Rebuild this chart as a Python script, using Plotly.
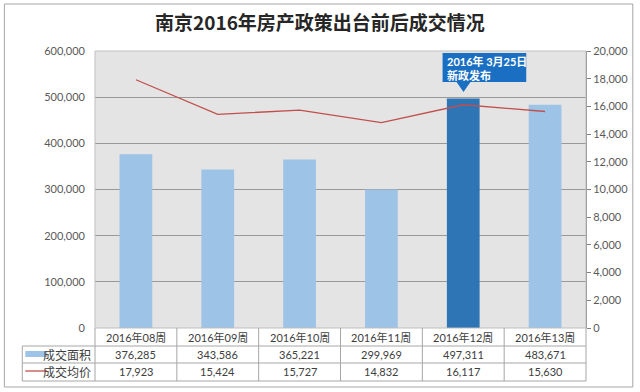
import plotly.graph_objects as go

categories = ["2016年08周", "2016年09周", "2016年10周", "2016年11周", "2016年12周", "2016年13周"]
area = [376285, 343586, 365221, 299969, 497311, 483671]
price = [17923, 15424, 15727, 14832, 16117, 15630]
highlight_index = 4
series_names = ["成交面积", "成交均价"]
title_text = "南京2016年房产政策出台前后成交情况"
callout_lines = ["2016年 3月25日", "新政发布"]

W, H = 640, 392
L, R, T, B = 95, 588, 51, 328
PW, PH = R - L, B - T

def px(x):
    return (x - L) / PW

def py(y):
    return (B - y) / PH

FONT = "Lato, 'Noto Sans CJK SC', sans-serif"
CJK = "'Noto Sans CJK SC', sans-serif"
LIGHT = "#9dc3e6"
DARK = "#2e75b6"
LINEC = "#c0504d"
TXT = "#404040"

bar_colors = [DARK if i == highlight_index else LIGHT for i in range(len(categories))]

fig = go.Figure()
fig.add_trace(go.Bar(x=categories, y=area, marker=dict(color=bar_colors, line=dict(width=0)),
                     name=series_names[0], yaxis="y"))
fig.add_trace(go.Scatter(x=categories, y=price, mode="lines", line=dict(color=LINEC, width=1.3),
                         name=series_names[1], yaxis="y2"))

shapes = []
annotations = []

# outer border
shapes.append(dict(type="rect", xref="paper", yref="paper", x0=px(4), x1=px(635), y0=py(4), y1=py(387),
                   line=dict(color="#a6a6a6", width=1), layer="below"))
# plot area border
shapes.append(dict(type="rect", xref="paper", yref="paper", x0=0, x1=1, y0=0, y1=1,
                   line=dict(color="#bfbfbf", width=1)))

# table lines
for yy in [346, 363, 381]:
    shapes.append(dict(type="line", xref="paper", yref="paper", x0=px(22), x1=1, y0=py(yy), y1=py(yy),
                       line=dict(color="#a6a6a6", width=1)))
shapes.append(dict(type="line", xref="paper", yref="paper", x0=px(22), x1=px(22), y0=py(346), y1=py(381),
                   line=dict(color="#a6a6a6", width=1)))
n = len(categories)
for k in range(n + 1):
    shapes.append(dict(type="line", xref="paper", yref="paper", x0=k / n, x1=k / n, y0=py(328), y1=py(381),
                       line=dict(color="#a6a6a6", width=1)))

# legend keys in table
shapes.append(dict(type="rect", xref="paper", yref="paper", x0=px(25), x1=px(47), y0=py(357), y1=py(351),
                   fillcolor=LIGHT, line=dict(width=0)))
shapes.append(dict(type="line", xref="paper", yref="paper", x0=px(25), x1=px(47), y0=py(371), y1=py(371),
                   line=dict(color=LINEC, width=1.3)))
annotations.append(dict(xref="paper", yref="paper", x=px(93), y=py(354.5), text=series_names[0],
                        showarrow=False, xanchor="right", yanchor="middle", font=dict(family=CJK, size=12, color=TXT)))
annotations.append(dict(xref="paper", yref="paper", x=px(93), y=py(371.5), text=series_names[1],
                        showarrow=False, xanchor="right", yanchor="middle", font=dict(family=CJK, size=12, color=TXT)))

for i, c in enumerate(categories):
    annotations.append(dict(xref="x", yref="paper", x=c, y=py(337.5), text=c, showarrow=False,
                            yanchor="middle", font=dict(family=FONT, size=11, color=TXT)))
    annotations.append(dict(xref="x", yref="paper", x=c, y=py(354.5), text=f"{area[i]:,}", showarrow=False,
                            yanchor="middle", font=dict(family=FONT, size=11, color=TXT)))
    annotations.append(dict(xref="x", yref="paper", x=c, y=py(371.5), text=f"{price[i]:,}", showarrow=False,
                            yanchor="middle", font=dict(family=FONT, size=11, color=TXT)))

# callout
CALL = "#1a6fc2"
shapes.append(dict(type="path", xref="paper", yref="paper",
                   path=f"M {px(444)},{py(53)} L {px(528)},{py(53)} L {px(528)},{py(82)} L {px(472)},{py(82)} "
                        f"L {px(465)},{py(92)} L {px(458)},{py(82)} L {px(444)},{py(82)} Z",
                   fillcolor=CALL, line=dict(width=0)))
annotations.append(dict(xref="paper", yref="paper", x=px(446), y=py(68), align="left",
                        text=f"<b>{callout_lines[0]}</b><br><b>{callout_lines[1]}</b>",
                        showarrow=False, xanchor="left", yanchor="middle",
                        font=dict(family=FONT, size=11, color="white")))

# title
annotations.append(dict(xref="paper", yref="paper", x=px(321), y=py(21), text=f"<b>{title_text}</b>",
                        showarrow=False, xanchor="center", yanchor="middle",
                        font=dict(family=CJK, size=19, color="#262626")))

fig.update_layout(
    width=W, height=H,
    margin=dict(l=L, r=W - R, t=T, b=H - B, pad=0),
    paper_bgcolor="white", plot_bgcolor="#e4e4e4",
    showlegend=False, bargap=0.6,
    shapes=shapes, annotations=annotations,
    xaxis=dict(showticklabels=False, showgrid=False, zeroline=False, ticks="", range=[-0.5, 5.5]),
    yaxis=dict(range=[0, 600000], dtick=100000, tickformat=",", showgrid=True, gridcolor="#999999",
               gridwidth=1, zeroline=False, ticks="", ticklabelstandoff=9,
               tickfont=dict(family=FONT, size=11, color="#595959")),
    yaxis2=dict(range=[0, 20000], dtick=2000, tickformat=",", overlaying="y", side="right", showgrid=False,
                zeroline=False, showline=True, linecolor="#808080", linewidth=1, ticks="outside", ticklen=4,
                tickcolor="#808080", tickfont=dict(family=FONT, size=11, color="#595959")),
)

fig.write_html("out.html", config={"displayModeBar": False},
               post_script="document.body.style.margin='0';document.body.style.overflow='hidden';")
